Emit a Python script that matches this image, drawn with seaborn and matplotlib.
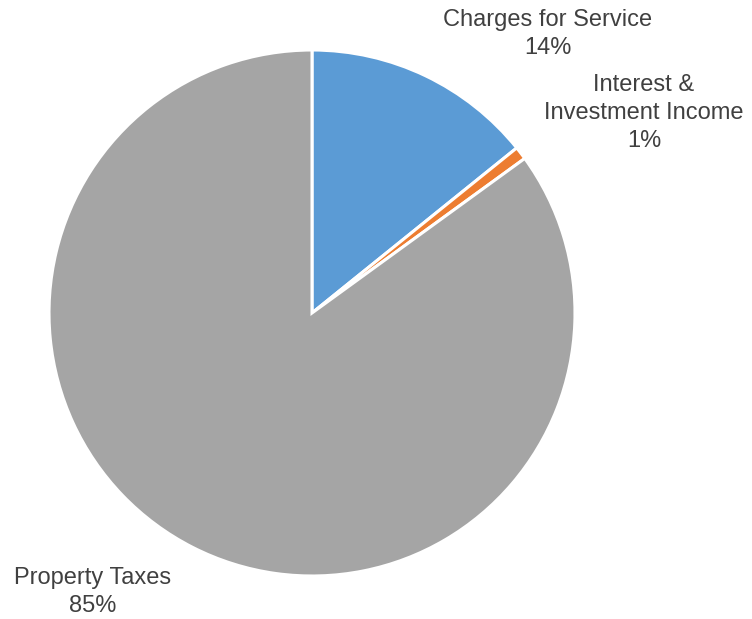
import matplotlib
matplotlib.use("Agg")
import matplotlib.pyplot as plt
import seaborn as sns

# Revenue sources (percent of total)
categories = ["Charges for Service", "Interest &\nInvestment Income", "Property Taxes"]
shares = [14.2, 0.8, 85.0]
pct_labels = ["14%", "1%", "85%"]
colors = ["#5B9BD5", "#ED7D31", "#A5A5A5"]

sns.set_theme(style="white")
plt.rcParams['font.family'] = ['Liberation Sans', 'DejaVu Sans']

fig = plt.figure(figsize=(7.52, 6.19), dpi=100)
ax = fig.add_axes([0, 0, 1, 1])

ax.pie(shares, colors=colors, startangle=90, counterclock=False,
       center=(312, 306), radius=263,
       wedgeprops=dict(edgecolor="white", linewidth=2.2))

# pie() resets the limits, so set pixel-like limits afterwards
ax.set_xlim(0, 752)
ax.set_ylim(0, 619)
ax.set_aspect("equal")
ax.axis("off")

# label placement (pixel coords, y from top)
label_pos = [(548, 34), (644, 113), (93, 592)]
for name, pct, (x, y) in zip(categories, pct_labels, label_pos):
    ax.text(x, 619 - y, f"{name}\n{pct}", ha="center", va="center",
            fontsize=17, color="#404040", linespacing=1.34)

fig.savefig("out.png", dpi=100)
plt.close(fig)
